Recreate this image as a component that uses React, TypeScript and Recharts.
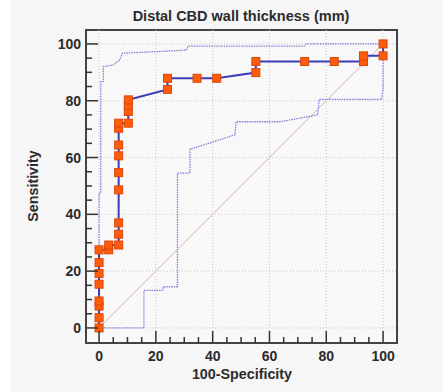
import React from 'react';
import {
  ComposedChart,
  Line,
  XAxis,
  YAxis,
  ReferenceLine,
  ReferenceArea,
} from 'recharts';

// ROC curve (100-Specificity vs Sensitivity)
const rocX = [0, 0, 0, 0, 0, 0, 0, 0, 3.4, 3.4, 6.9, 6.9, 6.9, 6.9, 6.9, 6.9, 6.9, 6.9, 6.9, 10.3, 10.3, 10.3, 10.3, 24.1, 24.1, 34.5, 41.4, 55.2, 55.2, 72.4, 82.8, 93.1, 93.1, 100, 100];
const rocY = [0, 3.6, 7.7, 9.5, 15.4, 19.2, 23.0, 27.5, 27.5, 29.2, 29.2, 33.0, 37.0, 48.6, 54.7, 60.6, 64.4, 70.3, 72.1, 72.1, 76.2, 78.2, 80.3, 84.0, 87.9, 87.9, 87.9, 89.9, 93.8, 93.8, 93.8, 93.8, 95.8, 95.8, 100];

// 95% confidence bounds
const upperX = [0, 0, 0.6, 0.6, 1.5, 1.5, 5, 7.3, 8.2, 11.9, 30.7, 31.3, 72.3, 72.9, 100];
const upperY = [0, 47.5, 47.5, 86.7, 86.7, 92, 92.6, 94.4, 96.7, 96.9, 97.8, 99.2, 99.2, 100, 100];
const lowerX = [0, 15.8, 15.8, 22.3, 22.6, 27.6, 27.6, 32, 32, 33.2, 47.9, 48.2, 63.7, 70.4, 77, 77.5, 99.5, 100, 100];
const lowerY = [0, 0, 13.2, 13.2, 14.5, 14.5, 54.5, 54.5, 62.9, 63.3, 68, 72.6, 72.6, 73.8, 75, 80.5, 80.5, 84, 100];

// chance diagonal
const diagX = [0, 100];
const diagY = [0, 100];

const ticks = [0, 5, 10, 15, 20, 25, 30, 35, 40, 45, 50, 55, 60, 65, 70, 75, 80, 85, 90, 95, 100];
const gridValues = [0, 20, 40, 60, 80, 100];

const X_DOMAIN: [number, number] = [-4.6, 104.9];
const Y_DOMAIN: [number, number] = [-5.3, 104.9];

const zip = (xs: number[], ys: number[]) => xs.map((x, i) => ({ x, y: ys[i] }));

const FONT = '"Liberation Sans", Arial, sans-serif';
const TEXT = '#2b2b2b';

const XTick = (props: any) => {
  const { x, y, payload } = props;
  const major = payload.value % 20 === 0;
  return (
    <g>
      <line x1={x} x2={x} y1={y} y2={y - (major ? 12 : 6)} stroke="#333" strokeWidth={1.5} />
      {major && (
        <text x={x} y={y + 18} textAnchor="middle" fontSize={14} fontWeight="bold" fill={TEXT} fontFamily={FONT}>
          {payload.value}
        </text>
      )}
    </g>
  );
};

const YTick = (props: any) => {
  const { x, y, payload } = props;
  const major = payload.value % 20 === 0;
  return (
    <g>
      <line x1={x} x2={x + (major ? 12 : 6)} y1={y} y2={y} stroke="#333" strokeWidth={1.5} />
      {major && (
        <text x={x - 5} y={y + 5} textAnchor="end" fontSize={14} fontWeight="bold" fill={TEXT} fontFamily={FONT}>
          {payload.value}
        </text>
      )}
    </g>
  );
};

const SquareDot = (props: any) => {
  const { cx, cy, index } = props;
  return (
    <rect key={`d-${index}`} x={cx - 4} y={cy - 4} width={8} height={8} fill="#ff5c0a" stroke="#d9480f" strokeWidth={1} />
  );
};

export default function App() {
  return (
    <div style={{ position: 'absolute', left: 0, top: 0, width: 443, height: 392, background: '#f6f6f6', fontFamily: FONT }}>
      <div style={{ position: 'absolute', left: 0, top: 0, width: 10, height: 392, background: '#ffffff' }} />
      <div style={{ position: 'absolute', left: 0, top: 8, width: 482, textAlign: 'center', fontSize: 14.5, fontWeight: 'bold', color: TEXT }}>
        Distal CBD wall thickness (mm)
      </div>
      <div
        style={{
          position: 'absolute',
          left: 33,
          top: 186,
          transform: 'translate(-50%, -50%) rotate(-90deg)',
          fontSize: 14.3,
          fontWeight: 'bold',
          color: TEXT,
          whiteSpace: 'nowrap',
        }}
      >
        Sensitivity
      </div>
      <div style={{ position: 'absolute', left: 142, top: 366, width: 200, textAlign: 'center', fontSize: 14.3, fontWeight: 'bold', color: TEXT }}>
        100-Specificity
      </div>
      <div style={{ position: 'absolute', left: 0, top: 0 }}>
        <ComposedChart width={443} height={392} margin={{ top: 30, right: 46, bottom: 19, left: 26 }}>
          <XAxis
            dataKey="x"
            type="number"
            domain={X_DOMAIN}
            ticks={ticks}
            interval={0}
            allowDataOverflow
            tickSize={0}
            tickMargin={0}
            height={30}
            axisLine={false}
            tick={<XTick />}
          />
          <YAxis
            dataKey="y"
            type="number"
            domain={Y_DOMAIN}
            ticks={ticks}
            interval={0}
            allowDataOverflow
            tickSize={0}
            tickMargin={0}
            width={60}
            axisLine={false}
            tick={<YTick />}
          />
          <ReferenceArea x1={X_DOMAIN[0]} x2={X_DOMAIN[1]} y1={Y_DOMAIN[0]} y2={Y_DOMAIN[1]} fill="#f8f8f8" fillOpacity={1} stroke="none" />
          {gridValues.map((v) => (
            <ReferenceLine key={`gx-${v}`} x={v} stroke="#c8c8c8" strokeDasharray="1 2" />
          ))}
          {gridValues.map((v) => (
            <ReferenceLine key={`gy-${v}`} y={v} stroke="#c8c8c8" strokeDasharray="1 2" />
          ))}
          <Line data={zip(diagX, diagY)} dataKey="y" stroke="#e6b0ad" strokeWidth={1} dot={false} isAnimationActive={false} />
          <Line data={zip(upperX, upperY)} dataKey="y" type="linear" stroke="#8080dc" strokeWidth={1.3} strokeDasharray="1.5 1" dot={false} isAnimationActive={false} />
          <Line data={zip(lowerX, lowerY)} dataKey="y" type="linear" stroke="#8080dc" strokeWidth={1.3} strokeDasharray="1.5 1" dot={false} isAnimationActive={false} />
          <Line data={zip(rocX, rocY)} dataKey="y" type="linear" stroke="#3d3db5" strokeWidth={2} dot={<SquareDot />} isAnimationActive={false} />
          <ReferenceArea x1={X_DOMAIN[0]} x2={X_DOMAIN[1]} y1={Y_DOMAIN[0]} y2={Y_DOMAIN[1]} fill="none" stroke="#444" strokeWidth={2} ifOverflow="visible" />
        </ComposedChart>
      </div>
    </div>
  );
}
